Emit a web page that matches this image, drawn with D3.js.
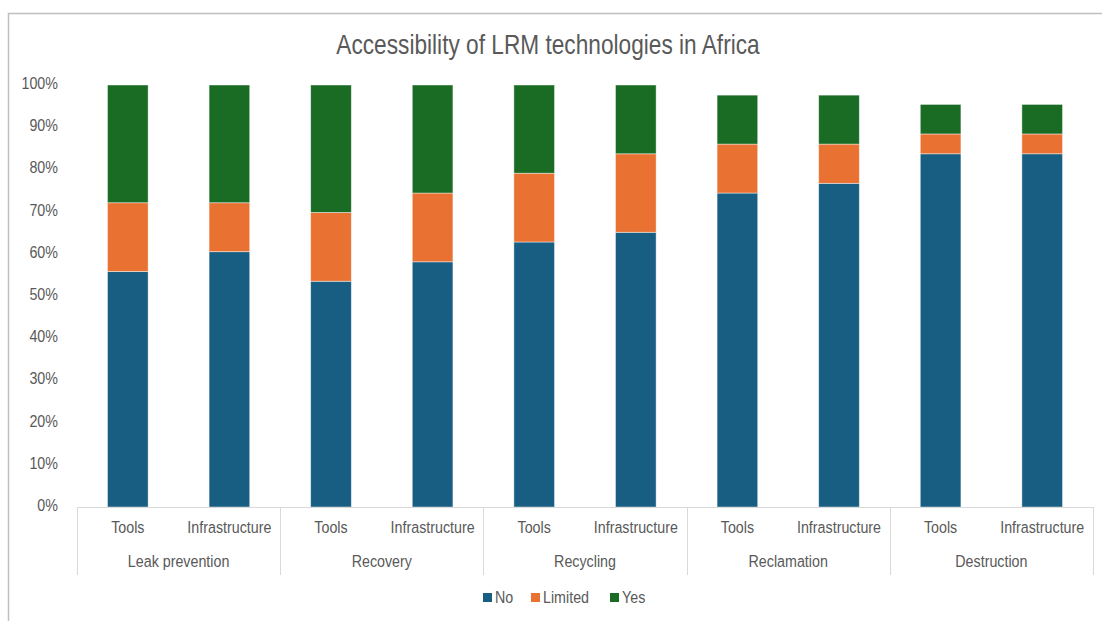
<!DOCTYPE html>
<html>
<head>
<meta charset="utf-8">
<script src="https://cdn.jsdelivr.net/npm/d3@7"></script>
<style>
  html, body { margin: 0; padding: 0; background: #fff; }
  svg text { font-family: "Liberation Sans", Arial, sans-serif; fill: #595959; }
</style>
</head>
<body>
<svg id="chart" width="1102" height="621"></svg>
<script>
// Share of respondents (%) by accessibility answer
const groups = ["Leak prevention", "Recovery", "Recycling", "Reclamation", "Destruction"];
const kinds = ["Tools", "Infrastructure"];
const seriesNames = ["No", "Limited", "Yes"];
const seriesColors = ["#175E82", "#E97132", "#1A6B24"];

// values in group order, Tools then Infrastructure within each group
const noValues      = [55.8, 60.5, 53.5, 58.1, 62.8, 65.1, 74.4, 76.7, 83.7, 83.7];
const limitedValues = [16.3, 11.6, 16.3, 16.3, 16.3, 18.6, 11.6,  9.3,  4.7,  4.7];
const yesValues     = [27.9, 27.9, 30.2, 25.6, 20.9, 16.3, 11.6, 11.6,  7.0,  7.0];
const yTicks = [0, 10, 20, 30, 40, 50, 60, 70, 80, 90, 100];

const rows = [];
groups.forEach((g, gi) => kinds.forEach((k, ki) => {
  const i = gi * kinds.length + ki;
  rows.push({ group: g, kind: k, No: noValues[i], Limited: limitedValues[i], Yes: yesValues[i] });
}));

const svg = d3.select("#chart");
const plotLeft = 77, plotRight = 1093, plotTop = 85, plotBottom = 507;
const narrow = 0.84; // horizontal squeeze for a narrow typeface look

// outer frame
svg.append("rect")
  .attr("x", 8.5).attr("y", 13.5).attr("width", 1120).attr("height", 640)
  .attr("fill", "none").attr("stroke", "#BFBFBF").attr("stroke-width", 1.5);

svg.append("text")
  .attr("transform", `translate(548,54) scale(${narrow},1)`)
  .attr("text-anchor", "middle")
  .style("font-size", "27px")
  .text("Accessibility of LRM technologies in Africa");

const y = d3.scaleLinear().domain([0, 100]).range([plotBottom, plotTop]);
const xGroup = d3.scaleBand().domain(groups).range([plotLeft, plotRight]).padding(0);
const xKind = d3.scaleBand().domain(kinds).range([0, xGroup.bandwidth()])
  .paddingInner(0.6).paddingOuter(0.3);
const color = d3.scaleOrdinal().domain(seriesNames).range(seriesColors);

const stack = d3.stack().keys(seriesNames);
const layers = stack(rows);

svg.append("g").selectAll("g").data(layers).join("g")
  .attr("fill", d => color(d.key))
  .selectAll("rect").data(d => d).join("rect")
  .attr("x", d => xGroup(d.data.group) + xKind(d.data.kind))
  .attr("width", xKind.bandwidth())
  .attr("y", d => y(d[1]))
  .attr("height", d => y(d[0]) - y(d[1]))
  .attr("stroke", "rgba(255,255,255,0.55)")
  .attr("stroke-width", 0.8);

// y axis labels (no axis line)
const yAxis = d3.axisLeft(y).tickValues(yTicks).tickFormat(d => d + "%").tickSize(0).tickPadding(0);
const yg = svg.append("g").attr("transform", `translate(58,-2)`).call(yAxis);
yg.select(".domain").remove();
yg.selectAll("text")
  .style("font-size", "17px")
  .attr("fill", "#595959")
  .attr("transform", `scale(${narrow},1)`);

// category axis
const axisColor = "#D9D9D9";
svg.append("line")
  .attr("x1", plotLeft).attr("x2", plotRight).attr("y1", plotBottom + 0.5).attr("y2", plotBottom + 0.5)
  .attr("stroke", axisColor).attr("stroke-width", 1);

const sepX = groups.map(g => xGroup(g)).concat([plotRight]);
svg.append("g").selectAll("line").data(sepX).join("line")
  .attr("x1", d => Math.round(d) + 0.5).attr("x2", d => Math.round(d) + 0.5)
  .attr("y1", plotBottom).attr("y2", 575)
  .attr("stroke", axisColor).attr("stroke-width", 1);

svg.append("g").selectAll("text").data(rows).join("text")
  .attr("transform", d =>
    `translate(${xGroup(d.group) + xKind(d.kind) + xKind.bandwidth() / 2},533) scale(${narrow},1)`)
  .attr("text-anchor", "middle")
  .style("font-size", "17px")
  .text(d => d.kind);

svg.append("g").selectAll("text").data(groups).join("text")
  .attr("transform", d => `translate(${xGroup(d) + xGroup.bandwidth() / 2},567) scale(${narrow},1)`)
  .attr("text-anchor", "middle")
  .style("font-size", "17px")
  .text(d => d);

// legend
const legend = svg.append("g");
const legendStarts = [483, 531, 610];
seriesNames.forEach((s, i) => {
  const g = legend.append("g").attr("transform", `translate(${legendStarts[i]},593)`);
  g.append("rect").attr("width", 9).attr("height", 9).attr("fill", color(s));
  g.append("text")
    .attr("transform", `translate(12,10) scale(${narrow},1)`)
    .style("font-size", "17px").text(s);
});
</script>
</body>
</html>
